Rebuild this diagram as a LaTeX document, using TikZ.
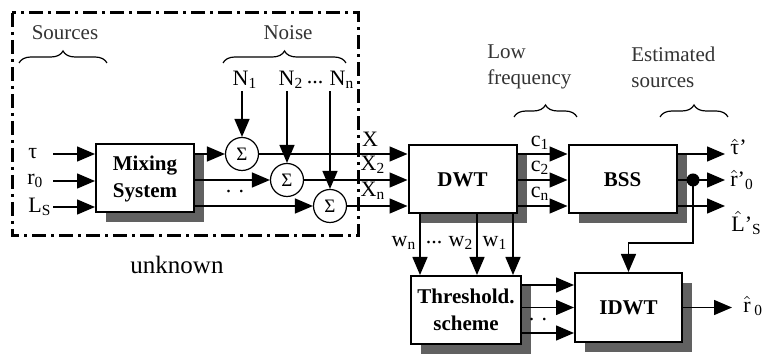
\documentclass[tikz,border=0pt]{standalone}
\usepackage{fontspec}
\setmainfont{Liberation Serif}
\usepackage{tikz}
\usetikzlibrary{arrows.meta,positioning,shadows,calc}
\usetikzlibrary{decorations.pathreplacing}

\newcommand{\hatof}[1]{$\hat{\mbox{#1}}$}

\begin{document}
\begin{tikzpicture}[x=0.5pt, y=-0.5pt,
    block/.style={draw, line width=1pt, fill=white, minimum width=54pt, minimum height=34pt,
        font=\fontsize{10.5}{13.5}\selectfont\bfseries, align=center,
        drop shadow={shadow xshift=5pt, shadow yshift=-5pt, fill=black!62, opacity=1}},
    summer/.style={draw, circle, line width=0.6pt, fill=white, minimum size=16.5pt, inner sep=0pt, font=\fontsize{9.5}{10}\selectfont},
    sig/.style={line width=0.75pt, -{Triangle[length=9pt,width=7.5pt]}},
    lbl/.style={font=\fontsize{11}{12}\selectfont, inner sep=1pt},
    note/.style={font=\fontsize{10.5}{13}\selectfont, text=black!80, align=left, inner sep=0pt},
    brc/.style={decorate, decoration={brace, amplitude=6pt}, line width=0.6pt}]
        \useasboundingbox (0,0) rectangle (766,356);

        % Unknown part: sources and noise
        \draw[line width=1.5pt, dash pattern=on 7pt off 2.5pt on 1.5pt off 2.5pt] (12,13) rectangle (358,236);
        \node[font=\fontsize{12.5}{14}\selectfont] (unknown) at (177,265) {unknown};
        \node[note] (sources) at (65,33) {Sources};
        \draw[brc] (19,63) -- (107,63);
        \node[note] (noise) at (288,33) {Noise};
        \draw[brc] (223,63) -- (346,63);

        % Mixing system
        \node[block, minimum width=49pt] (mix) at (145,178.5) {Mixing\\System};
        \coordinate (instart) at (53,0);
        \node[lbl, anchor=west] (tau) at (26,154) {τ};
        \node[lbl, anchor=west] (r0) at (25,181) {r\textsubscript{0}};
        \node[lbl, anchor=west] (ls) at (26,207) {L\textsubscript{S}};
        \draw[sig] (tau -| instart) -- (tau -| mix.west);
        \draw[sig] (r0 -| instart) -- (r0 -| mix.west);
        \draw[sig] (ls -| instart) -- (ls -| mix.west);

        % Adders
        \node[summer] (s1) at (242,154) {Σ};
        \node[summer] (s2) at (287,180) {Σ};
        \node[summer] (s3) at (330,206) {Σ};
        \draw[sig] (mix.east |- s1) -- (s1.west);
        \draw[sig] (mix.east |- s2) -- (s2.west);
        \draw[sig] (mix.east |- s3) -- (s3.west);
        \node[lbl] (mixdots) at (235,192) {. .};

        % Noise inputs
        \node[lbl] (n1) at (245,80) {N\textsubscript{1}};
        \node[lbl] (n2) at (291,80) {N\textsubscript{2}};
        \node[lbl] (ndots) at (315,83) {...};
        \node[lbl] (nn) at (342,80) {N\textsubscript{n}};
        \draw[sig] (s1 |- n1.south) -- (s1.north);
        \draw[sig] (s2 |- n2.south) -- (s2.north);
        \draw[sig] (s3 |- nn.south) -- (s3.north);

        % DWT
        \node[block] (dwt) at (462.5,179.5) {DWT};
        \draw[sig] (s1.east) -- (s1 -| dwt.west);
        \draw[sig] (s2.east) -- (s2 -| dwt.west);
        \draw[sig] (s3.east) -- (s3 -| dwt.west);
        \node[lbl] (x1) at (370,139) {X};
        \node[lbl] (x2) at (373,165) {X\textsubscript{2}};
        \node[lbl] (xn) at (373,191) {X\textsubscript{n}};

        % BSS
        \node[block] (bss) at (622.5,179.5) {BSS};
        \draw[sig] (s1 -| dwt.east) -- (s1 -| bss.west);
        \draw[sig] (s2 -| dwt.east) -- (s2 -| bss.west);
        \draw[sig] (s3 -| dwt.east) -- (s3 -| bss.west);
        \node[lbl] (c1) at (540,143) {c\textsubscript{1}};
        \node[lbl] (c2) at (540,168) {c\textsubscript{2}};
        \node[lbl] (cn) at (540,194) {c\textsubscript{n}};
        \node[note, anchor=north west] (lowf) at (487,44) {Low\\frequency};
        \draw[brc] (514,117) -- (577,117);

        % Estimated sources
        \coordinate (outend) at (725,0);
        \draw[sig] (s1 -| bss.east) -- (s1 -| outend);
        \draw[sig] (s2 -| bss.east) -- (s2 -| outend);
        \draw[sig] (s3 -| bss.east) -- (s3 -| outend);
        \node[circle, fill, inner sep=0pt, minimum size=6.5pt] (tap) at (693,180) {};
        \node[lbl, anchor=west] (tauhat) at (728,147) {\hatof{τ}'};
        \node[lbl, anchor=west] (rhat) at (728,180) {\hatof{r}'\textsubscript{0}};
        \node[lbl, anchor=west] (lhat) at (729,223) {\hatof{L}'\textsubscript{S}};
        \node[note, anchor=north west] (est) at (631,47) {Estimated\\sources};
        \draw[brc] (660,117) -- (728,117);

        % Threshold and IDWT
        \node[block] (thr) at (466,310) {Threshold.\\scheme};
        \node[block, minimum width=53.5pt, minimum height=34.5pt] (idwt) at (628.5,307.5) {IDWT};
        \coordinate (wn) at (420,0);
        \coordinate (w2) at (477,0);
        \coordinate (w1) at (513,0);
        \draw[sig] (dwt.south -| wn) -- (thr.north -| wn);
        \draw[sig] (dwt.south -| w2) -- (thr.north -| w2);
        \draw[sig] (dwt.south -| w1) -- (thr.north -| w1);
        \node[lbl] (wnl) at (404,243) {w\textsubscript{n}};
        \node[lbl] (wdots) at (434,243) {...};
        \node[lbl] (w2l) at (461,243) {w\textsubscript{2}};
        \node[lbl] (w1l) at (495,243) {w\textsubscript{1}};
        \coordinate (t1) at (0,285);
        \coordinate (tn) at (0,333);
        \draw[sig] (thr.east |- t1) -- (idwt.west |- t1);
        \draw[sig] (thr.east |- idwt.west) -- (idwt.west);
        \draw[sig] (thr.east |- tn) -- (idwt.west |- tn);
        \node[lbl] (thrdots) at (538,320) {. .};
        \coordinate (bend) at (693,243);
        \draw[sig] (tap.center) -- (bend) -| (idwt.north);
        \coordinate (rend) at (732,307.5);
        \draw[sig] (idwt.east) -- (rend);
        \node[lbl, anchor=west] (rout) at (741,306) {\hatof{r}\,\textsubscript{0}};
    \end{tikzpicture}
\end{document}
